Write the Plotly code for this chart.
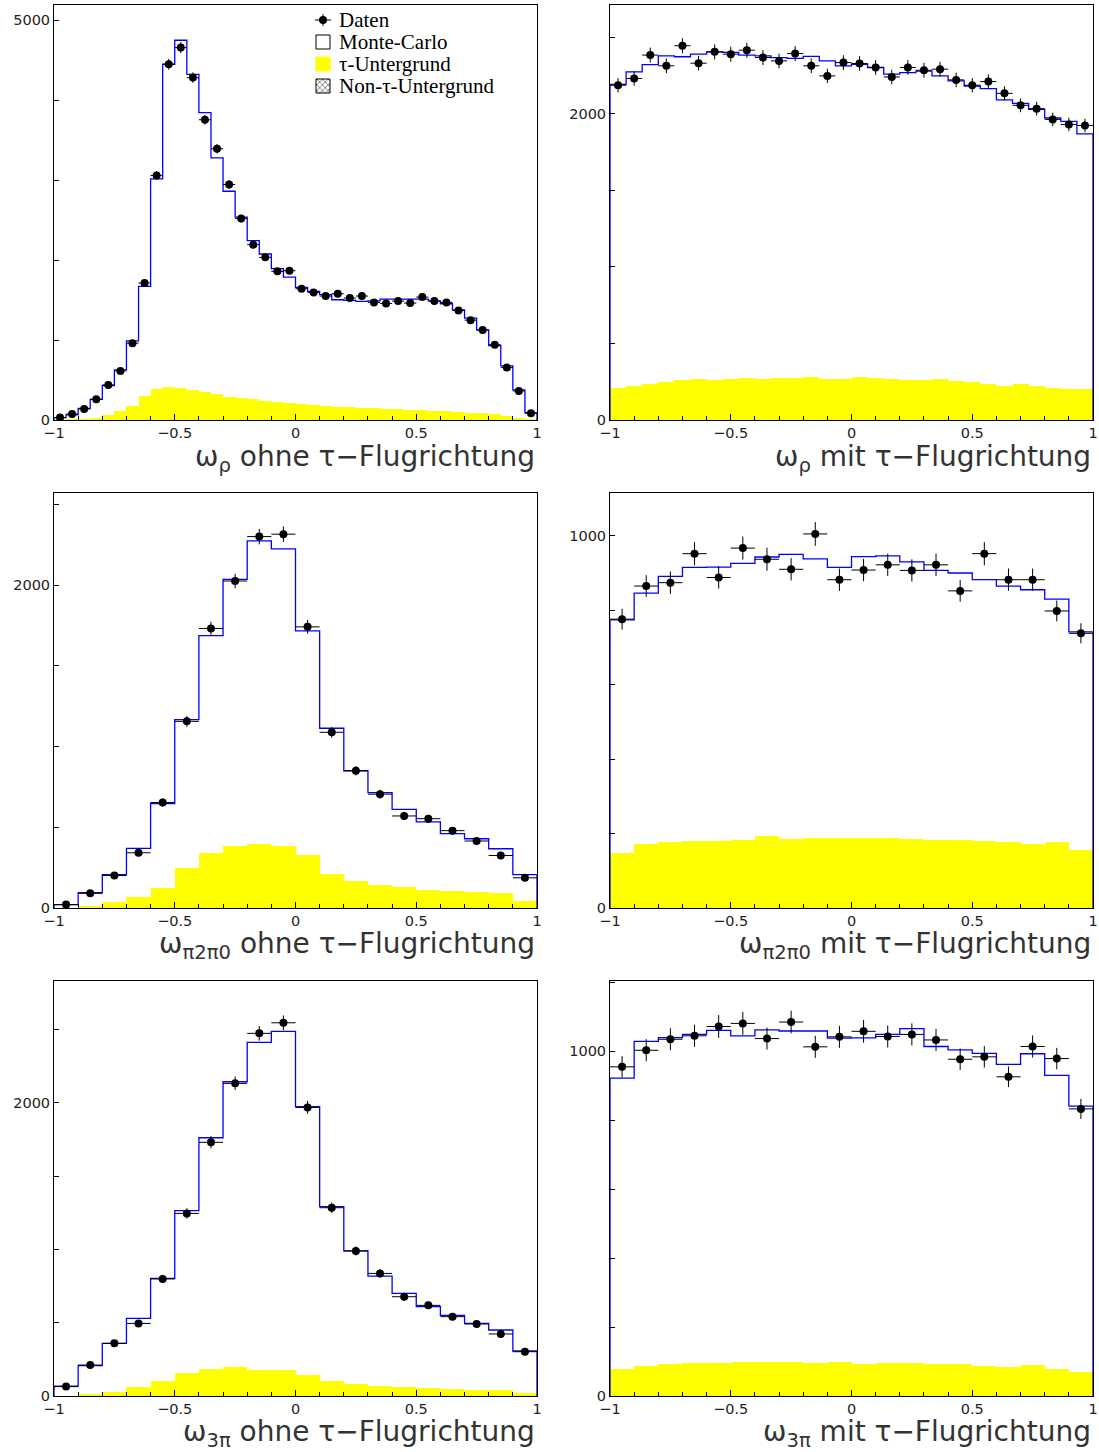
import numpy as np
import plotly.graph_objects as go

# ---------------------------------------------------------------
# ω_ρ ohne τ-Flugrichtung  (40 Bins in [-1, 1])
rho_ohne_daten = [30, 75, 138, 259, 439, 614, 961, 1713, 3058, 4449,
                  4657, 4282, 3755, 3392, 2945, 2519, 2193, 2034, 1859, 1867,
                  1642, 1596, 1550, 1579, 1525, 1550, 1470, 1458, 1487, 1462,
                  1537, 1487, 1470, 1370, 1249, 1124, 940, 656, 363, 84]
rho_ohne_fehler = [5, 9, 12, 16, 21, 25, 31, 41, 55, 67,
                   68, 65, 61, 58, 54, 50, 47, 45, 43, 43,
                   41, 40, 39, 40, 39, 39, 38, 38, 39, 38,
                   39, 39, 38, 37, 35, 34, 31, 26, 19, 9]
rho_ohne_mc = [30, 63, 146, 259, 430, 627, 990, 1671, 3016, 4449,
               4749, 4323, 3843, 3279, 2861, 2536, 2243, 2076, 1892, 1788,
               1658, 1608, 1567, 1504, 1495, 1483, 1491, 1512, 1512, 1512,
               1512, 1491, 1454, 1378, 1274, 1128, 932, 677, 376, 92]
rho_ohne_tau = [0, 5, 8, 30, 63, 113, 180, 300, 384, 409,
                405, 376, 347, 322, 292, 271, 259, 242, 221, 209,
                196, 188, 171, 163, 159, 155, 146, 142, 138, 129,
                125, 117, 109, 96, 92, 84, 71, 50, 29, 4]

# ω_ρ mit τ-Flugrichtung  (30 Bins)
rho_mit_daten = [2186, 2230, 2383, 2313, 2444, 2330, 2404, 2389, 2415, 2367,
                 2345, 2393, 2313, 2247, 2334, 2328, 2302, 2240, 2302, 2284,
                 2291, 2221, 2186, 2210, 2133, 2055, 2033, 1963, 1930, 1923]
rho_mit_fehler = [47, 47, 49, 48, 49, 48, 49, 49, 49, 49,
                  48, 49, 48, 47, 48, 48, 48, 47, 48, 48,
                  48, 47, 47, 47, 46, 45, 45, 44, 44, 44]
rho_mit_mc = [2192, 2273, 2321, 2378, 2372, 2389, 2404, 2400, 2383, 2378,
              2367, 2361, 2374, 2345, 2313, 2323, 2302, 2258, 2269, 2278,
              2247, 2214, 2181, 2164, 2090, 2068, 2028, 1972, 1950, 1869]
rho_mit_tau = [208, 225, 232, 247, 262, 267, 264, 269, 273, 271,
               273, 275, 284, 269, 269, 278, 273, 269, 264, 262,
               269, 254, 247, 236, 225, 232, 219, 212, 205, 201]

# ω_π2π0 ohne τ-Flugrichtung  (20 Bins)
a1_ohne_daten = [21, 91, 201, 342, 653, 1156, 1731, 2025, 2300, 2315,
                 1741, 1088, 850, 705, 570, 553, 479, 415, 325, 187]
a1_ohne_fehler = [5, 10, 14, 18, 26, 34, 42, 45, 48, 48,
                  42, 33, 29, 27, 24, 24, 22, 20, 18, 14]
a1_ohne_mc = [21, 95, 207, 369, 647, 1167, 1687, 2035, 2274, 2224,
              1716, 1113, 850, 715, 611, 533, 460, 429, 367, 207]
a1_ohne_tau = [0, 10, 37, 66, 124, 249, 342, 383, 398, 383,
               327, 211, 170, 145, 133, 114, 104, 97, 91, 41]

# ω_π2π0 mit τ-Flugrichtung  (20 Bins)
a1_mit_daten = [776, 865, 874, 952, 888, 967, 937, 910, 1005, 882,
                908, 922, 907, 922, 852, 952, 882, 882, 798, 738]
a1_mit_fehler = [28, 29, 30, 31, 30, 31, 31, 30, 32, 30,
                 30, 30, 30, 30, 29, 31, 30, 30, 28, 27]
a1_mit_mc = [774, 846, 891, 915, 916, 926, 943, 950, 938, 915,
             944, 946, 930, 907, 900, 882, 865, 855, 830, 742]
a1_mit_tau = [149, 171, 176, 181, 179, 184, 194, 186, 189, 188,
              189, 188, 186, 182, 182, 179, 178, 171, 178, 157]

# ω_3π ohne τ-Flugrichtung  (20 Bins)
a3_ohne_daten = [64, 211, 359, 495, 798, 1245, 1730, 2132, 2473, 2545,
                 1968, 1284, 989, 836, 677, 618, 541, 491, 423, 302]
a3_ohne_fehler = [8, 15, 19, 22, 28, 35, 42, 46, 50, 50,
                  44, 36, 31, 29, 26, 25, 23, 22, 21, 17]
a3_ohne_mc = [68, 207, 359, 530, 802, 1264, 1761, 2143, 2411, 2486,
              1973, 1291, 989, 818, 700, 609, 550, 495, 450, 307]
a3_ohne_tau = [0, 11, 30, 64, 102, 157, 186, 200, 177, 177,
               141, 102, 82, 68, 61, 55, 48, 43, 39, 23]

# ω_3π mit τ-Flugrichtung  (20 Bins)
a3_mit_daten = [955, 1003, 1035, 1045, 1072, 1081, 1037, 1085, 1013, 1042,
                1058, 1043, 1049, 1033, 977, 984, 926, 1014, 979, 833]
a3_mit_fehler = [31, 32, 32, 32, 33, 33, 32, 33, 32, 32,
                 33, 32, 32, 32, 31, 31, 30, 32, 31, 29]
a3_mit_mc = [922, 1029, 1040, 1049, 1061, 1045, 1062, 1059, 1059, 1038,
             1039, 1049, 1066, 1014, 1004, 994, 962, 993, 930, 841]
a3_mit_tau = [78, 87, 93, 96, 97, 98, 99, 99, 97, 99,
              94, 95, 95, 93, 92, 87, 83, 89, 78, 71]

# axis labels
titel = [
    "ω<sub>ρ</sub> ohne τ−Flugrichtung",
    "ω<sub>ρ</sub> mit τ−Flugrichtung",
    "ω<sub>π2π0</sub> ohne τ−Flugrichtung",
    "ω<sub>π2π0</sub> mit τ−Flugrichtung",
    "ω<sub>3π</sub> ohne τ−Flugrichtung",
    "ω<sub>3π</sub> mit τ−Flugrichtung",
]
y_max = [5190, 2710, 2570, 1115, 2830, 1204]
y_tick_step = [1000, 500, 500, 200, 500, 200]
y_label_werte = [[0, 5000], [0, 2000], [0, 2000], [0, 1000], [0, 2000], [0, 1000]]

legende_texte = ["Daten", "Monte-Carlo", "τ-Untergrund", "Non-τ-Untergrund"]

panels = [
    (rho_ohne_daten, rho_ohne_fehler, rho_ohne_mc, rho_ohne_tau),
    (rho_mit_daten, rho_mit_fehler, rho_mit_mc, rho_mit_tau),
    (a1_ohne_daten, a1_ohne_fehler, a1_ohne_mc, a1_ohne_tau),
    (a1_mit_daten, a1_mit_fehler, a1_mit_mc, a1_mit_tau),
    (a3_ohne_daten, a3_ohne_fehler, a3_ohne_mc, a3_ohne_tau),
    (a3_mit_daten, a3_mit_fehler, a3_mit_mc, a3_mit_tau),
]

# ---------------------------------------------------------------
W, H = 1099, 1452
col_px = [(54, 537), (610, 1093)]
row_px = [(5, 420), (493, 908), (981, 1396)]
# vertical offset of the axis title below each row's frame (px)
titel_abstand = [-39, -37, -37]

TICK_FONT = dict(family="DejaVu Sans", size=14.5, color="#222222")
TITLE_FONT = dict(family="DejaVu Sans", size=28, color="#333333")
LEG_FONT = dict(family="Liberation Serif", size=21, color="black")
GELB = "#ffff00"
BLAU = "#0000ff"

fig = go.Figure()
layout = dict(
    width=W, height=H,
    margin=dict(l=0, r=0, t=0, b=0, autoexpand=False),
    paper_bgcolor="white",
    plot_bgcolor="rgba(0,0,0,0)",
    showlegend=False,
    bargap=0,
    barmode="overlay",
)
annotations = []

for i, (daten, fehler, mc, tau) in enumerate(panels):
    n = len(daten)
    edges = np.linspace(-1.0, 1.0, n + 1)
    centers = 0.5 * (edges[:-1] + edges[1:])
    bw = edges[1] - edges[0]
    ax = "" if i == 0 else str(i + 1)
    xref, yref = "x" + ax, "y" + ax

    # τ background as filled histogram
    fig.add_trace(go.Bar(
        x=centers, y=tau, width=bw, xaxis=xref, yaxis=yref,
        marker=dict(color=GELB, line=dict(width=0)),
    ))
    # Monte-Carlo histogram outline
    sx = [edges[0]] + list(edges[:-1]) + [edges[-1], edges[-1]]
    sy = [0] + list(mc) + [mc[-1], 0]
    fig.add_trace(go.Scatter(
        x=sx, y=sy, mode="lines", line=dict(color=BLAU, width=1.3, shape="hv"),
        xaxis=xref, yaxis=yref,
    ))
    # data points with statistical errors
    fig.add_trace(go.Scatter(
        x=centers, y=daten, mode="markers", xaxis=xref, yaxis=yref,
        marker=dict(color="black", size=8),
        error_y=dict(type="data", array=fehler, width=0, thickness=1, color="black"),
        error_x=dict(type="constant", value=bw / 2, width=0, thickness=1, color="black"),
    ))

    r, c = divmod(i, 2)
    x0, x1 = col_px[c]
    y0, y1 = row_px[r]

    layout["xaxis" + ax] = dict(
        domain=[x0 / W, x1 / W], range=[-1, 1], anchor=yref, automargin=False,
        showline=True, mirror=True, linecolor="black", linewidth=1,
        showgrid=False, zeroline=False,
        tickmode="linear", tick0=0, dtick=0.5,
        ticks="inside", ticklen=6, tickcolor="black", tickfont=TICK_FONT,
        ticklabelstandoff=0,
        minor=dict(dtick=0.1, tick0=0, ticks="inside", ticklen=4, tickcolor="black"),
    )
    layout["yaxis" + ax] = dict(
        domain=[1 - y1 / H, 1 - y0 / H], range=[0, y_max[i]], anchor=xref,
        automargin=False,
        showline=True, mirror=True, linecolor="black", linewidth=1,
        showgrid=False, zeroline=False,
        tickmode="array", tickvals=y_label_werte[i],
        ticktext=[str(v) for v in y_label_werte[i]],
        ticks="inside", ticklen=5, tickcolor="black", tickfont=TICK_FONT,
        minor=dict(tickmode="linear", tick0=0, dtick=y_tick_step[i],
                   ticks="inside", ticklen=5, tickcolor="black"),
    )
    annotations.append(dict(
        text=titel[i], xref=xref + " domain", yref=yref + " domain",
        x=1, y=0, xanchor="right", yanchor="middle", xshift=-1,
        yshift=titel_abstand[r],
        borderpad=0, showarrow=False, font=TITLE_FONT,
    ))

# legend drawn in pixel coordinates on a hidden full-page axis pair
layout["xaxis7"] = dict(domain=[0, 1], range=[0, W], visible=False, anchor="y7",
                        automargin=False)
layout["yaxis7"] = dict(domain=[0, 1], range=[H, 0], visible=False, anchor="x7",
                        automargin=False)

leg_x, leg_y, leg_dy = 323, 20, 22
# Daten glyph
fig.add_trace(go.Scatter(
    x=[leg_x], y=[leg_y], mode="markers", xaxis="x7", yaxis="y7",
    marker=dict(color="black", size=8),
    error_x=dict(type="constant", value=8, width=0, thickness=1, color="black"),
    error_y=dict(type="constant", value=6, width=0, thickness=1, color="black"),
))


def box(yc):
    h = 7
    return ([leg_x - 7, leg_x + 7, leg_x + 7, leg_x - 7, leg_x - 7],
            [yc - h, yc - h, yc + h, yc + h, yc - h])


bx, by = box(leg_y + leg_dy)
fig.add_trace(go.Scatter(x=bx, y=by, mode="lines", fill="toself", fillcolor="white",
                         line=dict(color="black", width=1), xaxis="x7", yaxis="y7"))
bx, by = box(leg_y + 2 * leg_dy)
fig.add_trace(go.Scatter(x=bx, y=by, mode="lines", fill="toself", fillcolor=GELB,
                         line=dict(color=GELB, width=1), xaxis="x7", yaxis="y7"))
bx, by = box(leg_y + 3 * leg_dy)
fig.add_trace(go.Scatter(x=bx, y=by, mode="lines", fill="toself",
                         fillpattern=dict(shape="x", fgcolor="black", bgcolor="white",
                                          size=4, solidity=0.4),
                         line=dict(color="black", width=1), xaxis="x7", yaxis="y7"))

for k, t in enumerate(legende_texte):
    annotations.append(dict(
        text=t, xref="x7", yref="y7", x=leg_x + 15, y=leg_y + k * leg_dy,
        xanchor="left", yanchor="middle", showarrow=False, font=LEG_FONT,
        borderpad=0,
    ))

layout["annotations"] = annotations
fig.update_layout(**layout)
fig.write_html("out.html")
